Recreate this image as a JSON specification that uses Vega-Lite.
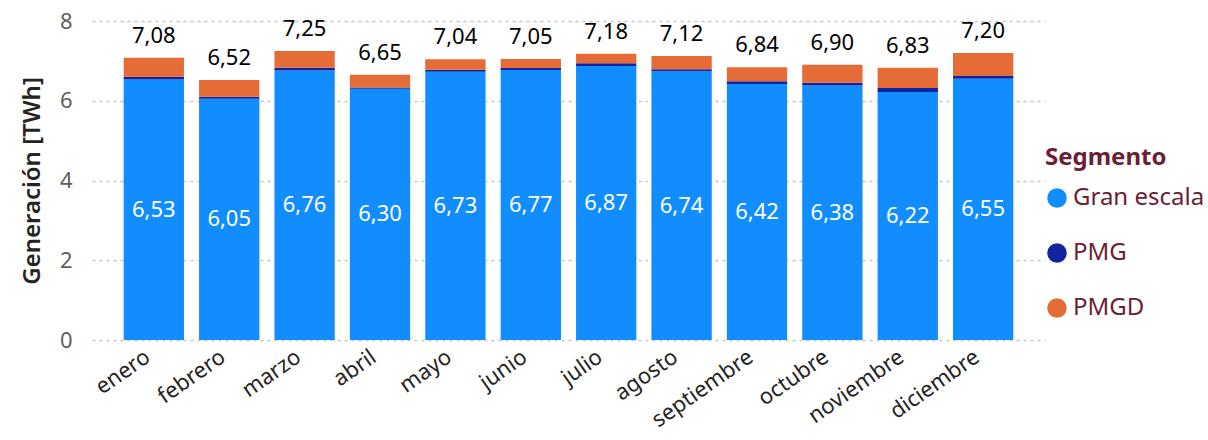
{
  "$schema": "https://vega.github.io/schema/vega-lite/v6.json",
  "width": 953,
  "height": 319,
  "autosize": "none",
  "padding": {"left": 92, "top": 21, "right": 163, "bottom": 100},
  "config": {
    "locale": {"number": {"decimal": ",", "thousands": ".", "grouping": [3], "currency": ["$", ""]}},
    "view": {"stroke": null},
    "font": "Noto Sans",
    "axisY": {
      "domain": false, "ticks": false,
      "labelFontSize": 22, "labelColor": "#605E5C", "labelPadding": 20,
      "gridDash": [3, 4], "gridColor": "#C8C6C4", "gridWidth": 1.5
    },
    "axisX": {
      "domain": false, "ticks": false, "grid": false,
      "labelAngle": -35, "labelFontSize": 22, "labelColor": "#252423",
      "labelAlign": "right", "labelBaseline": "top",
      "labelPadding": 6, "labelOffset": -12
    }
  },
  "datasets": {
    "seg": [
      {"mes": "enero", "segmento": "Gran escala", "valor": 6.53},
      {"mes": "enero", "segmento": "PMG", "valor": 0.07},
      {"mes": "enero", "segmento": "PMGD", "valor": 0.48},
      {"mes": "febrero", "segmento": "Gran escala", "valor": 6.05},
      {"mes": "febrero", "segmento": "PMG", "valor": 0.05},
      {"mes": "febrero", "segmento": "PMGD", "valor": 0.42},
      {"mes": "marzo", "segmento": "Gran escala", "valor": 6.76},
      {"mes": "marzo", "segmento": "PMG", "valor": 0.07},
      {"mes": "marzo", "segmento": "PMGD", "valor": 0.42},
      {"mes": "abril", "segmento": "Gran escala", "valor": 6.30},
      {"mes": "abril", "segmento": "PMG", "valor": 0.03},
      {"mes": "abril", "segmento": "PMGD", "valor": 0.32},
      {"mes": "mayo", "segmento": "Gran escala", "valor": 6.73},
      {"mes": "mayo", "segmento": "PMG", "valor": 0.05},
      {"mes": "mayo", "segmento": "PMGD", "valor": 0.26},
      {"mes": "junio", "segmento": "Gran escala", "valor": 6.77},
      {"mes": "junio", "segmento": "PMG", "valor": 0.05},
      {"mes": "junio", "segmento": "PMGD", "valor": 0.23},
      {"mes": "julio", "segmento": "Gran escala", "valor": 6.87},
      {"mes": "julio", "segmento": "PMG", "valor": 0.07},
      {"mes": "julio", "segmento": "PMGD", "valor": 0.24},
      {"mes": "agosto", "segmento": "Gran escala", "valor": 6.74},
      {"mes": "agosto", "segmento": "PMG", "valor": 0.05},
      {"mes": "agosto", "segmento": "PMGD", "valor": 0.33},
      {"mes": "septiembre", "segmento": "Gran escala", "valor": 6.42},
      {"mes": "septiembre", "segmento": "PMG", "valor": 0.07},
      {"mes": "septiembre", "segmento": "PMGD", "valor": 0.35},
      {"mes": "octubre", "segmento": "Gran escala", "valor": 6.38},
      {"mes": "octubre", "segmento": "PMG", "valor": 0.07},
      {"mes": "octubre", "segmento": "PMGD", "valor": 0.45},
      {"mes": "noviembre", "segmento": "Gran escala", "valor": 6.22},
      {"mes": "noviembre", "segmento": "PMG", "valor": 0.10},
      {"mes": "noviembre", "segmento": "PMGD", "valor": 0.51},
      {"mes": "diciembre", "segmento": "Gran escala", "valor": 6.55},
      {"mes": "diciembre", "segmento": "PMG", "valor": 0.07},
      {"mes": "diciembre", "segmento": "PMGD", "valor": 0.58}
    ],
    "tot": [
      {"mes": "enero", "total": 7.08},
      {"mes": "febrero", "total": 6.52},
      {"mes": "marzo", "total": 7.25},
      {"mes": "abril", "total": 6.65},
      {"mes": "mayo", "total": 7.04},
      {"mes": "junio", "total": 7.05},
      {"mes": "julio", "total": 7.18},
      {"mes": "agosto", "total": 7.12},
      {"mes": "septiembre", "total": 6.84},
      {"mes": "octubre", "total": 6.90},
      {"mes": "noviembre", "total": 6.83},
      {"mes": "diciembre", "total": 7.20}
    ]
  },
  "resolve": {"axis": {"y": "independent"}},
  "layer": [
    {
      "data": {"name": "seg"},
      "mark": {"type": "bar"},
      "encoding": {
        "x": {
          "field": "mes", "type": "nominal",
          "sort": ["enero", "febrero", "marzo", "abril", "mayo", "junio", "julio", "agosto", "septiembre", "octubre", "noviembre", "diciembre"],
          "scale": {"paddingInner": 0.2, "paddingOuter": 0.42},
          "axis": {"title": null}
        },
        "y": {
          "field": "valor", "type": "quantitative",
          "scale": {"domain": [0, 8]},
          "axis": {"values": [0, 2, 4, 6, 8], "title": "Generación [TWh]", "titleFontSize": 24, "titleFontWeight": 600, "titlePadding": 15, "titleColor": "#252423"}
        },
        "color": {
          "field": "segmento", "type": "nominal",
          "scale": {"domain": ["Gran escala", "PMG", "PMGD"], "range": ["#118DFF", "#12239E", "#E66C37"]},
          "legend": {
            "orient": "none", "legendX": 953, "legendY": 125,
            "title": "Segmento", "titleFontSize": 24, "titleFontWeight": "bold", "titleColor": "#6B1E36",
            "titlePadding": 16,
            "labelFontSize": 24, "labelColor": "#6B1E36", "labelOffset": 4,
            "symbolType": "circle", "symbolSize": 380, "symbolStrokeWidth": 0,
            "rowPadding": 31
          }
        },
        "order": {"field": "segmento", "sort": "ascending"}
      }
    },
    {
      "data": {"name": "seg"},
      "transform": [
        {"filter": "datum.segmento == 'Gran escala'"},
        {"calculate": "datum.valor / 2", "as": "medio"}
      ],
      "mark": {"type": "text", "color": "#FFFFFF", "fontSize": 22, "baseline": "middle"},
      "encoding": {
        "x": {"field": "mes", "type": "nominal", "sort": ["enero", "febrero", "marzo", "abril", "mayo", "junio", "julio", "agosto", "septiembre", "octubre", "noviembre", "diciembre"]},
        "y": {"field": "medio", "type": "quantitative", "axis": null},
        "text": {"field": "valor", "type": "quantitative", "format": ".2f"}
      }
    },
    {
      "data": {"name": "tot"},
      "mark": {"type": "text", "color": "#000000", "fontSize": 22, "baseline": "alphabetic", "dy": -15},
      "encoding": {
        "x": {"field": "mes", "type": "nominal", "sort": ["enero", "febrero", "marzo", "abril", "mayo", "junio", "julio", "agosto", "septiembre", "octubre", "noviembre", "diciembre"]},
        "y": {"field": "total", "type": "quantitative", "axis": null},
        "text": {"field": "total", "type": "quantitative", "format": ".2f"}
      }
    }
  ]
}
